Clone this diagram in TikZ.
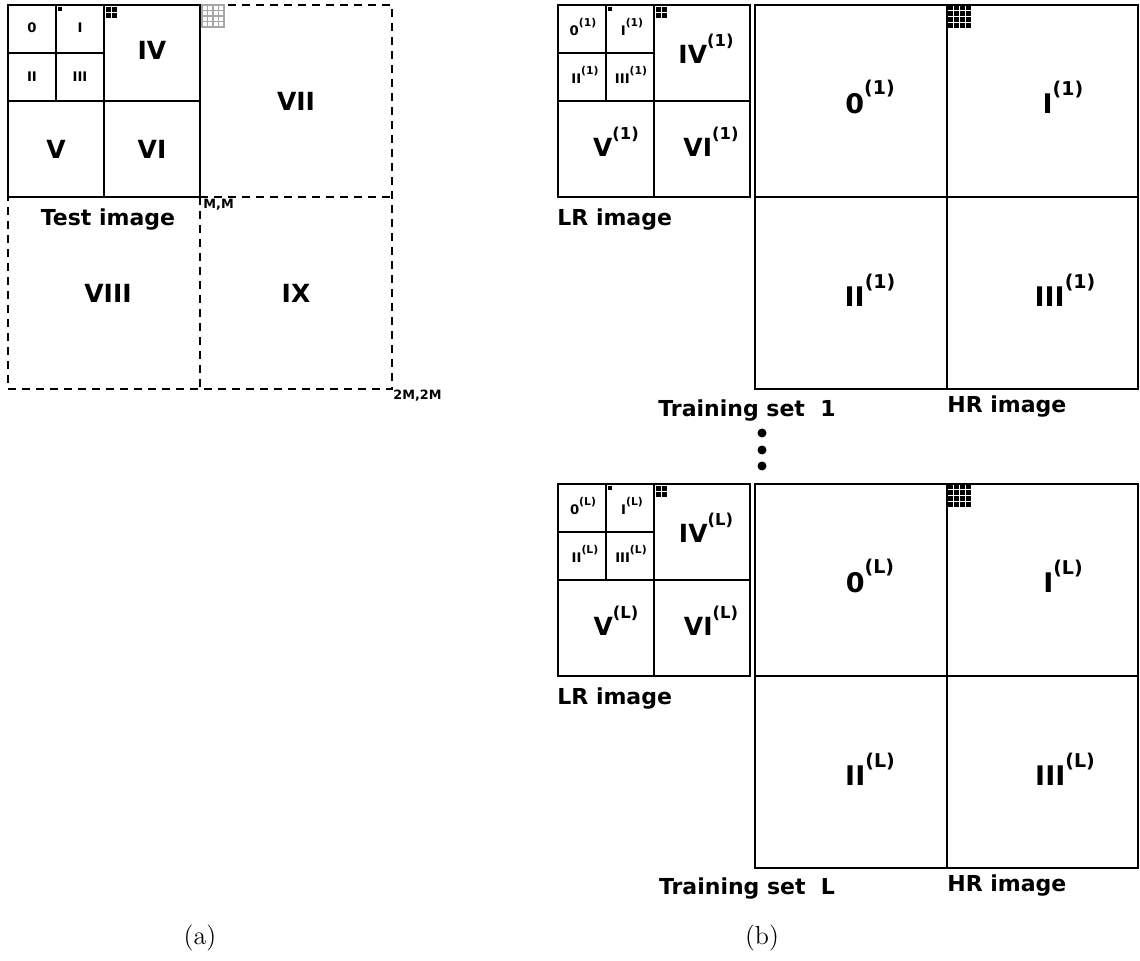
\documentclass[tikz,border=0pt]{standalone}
\usepackage{fontspec}
\newfontfamily\verd{DejaVu Sans}
\usetikzlibrary{positioning}

% superscripts for the quadrant labels
\newcommand\sps[1]{\raisebox{.72em}{\fontsize{5.4}{6}\selectfont(#1)}}
\newcommand\spb[1]{\raisebox{.68em}{\fontsize{8.2}{9}\selectfont(#1)}}
\newcommand\sph[1]{\raisebox{.68em}{\fontsize{9.5}{10}\selectfont(#1)}}

\begin{document}
\begin{tikzpicture}[
    x=0.5pt, y=-0.5pt,
    frame/.style={line width=1.1pt},
    dframe/.style={line width=1.1pt, dash pattern=on 4pt off 3pt},
    big/.style={font=\verd\bfseries\fontsize{12.5}{14}\selectfont, inner sep=0pt},
    small/.style={font=\verd\bfseries\fontsize{6.6}{8}\selectfont, inner sep=0pt},
    hrlbl/.style={font=\verd\bfseries\fontsize{13.5}{15}\selectfont, inner sep=0pt},
    caption/.style={font=\verd\bfseries\fontsize{11}{13}\selectfont, inner sep=0pt},
    corner/.style={font=\verd\bfseries\fontsize{6.4}{8}\selectfont, inner sep=0pt},
    subfig/.style={font=\fontsize{13}{15}\selectfont, inner sep=0pt}
]
\useasboundingbox (0,0) rectangle (1140,961);

% (a) test image
\draw[dframe] (200,5) -- (392,5) -- (392,389) -- (8,389) -- (8,197);
\draw[dframe] (200,197) -- (392,197) (200,197) -- (200,389);
\draw[frame] (8,5) rectangle (200,197);
\draw[frame] (104,5) -- (104,197) (8,101) -- (200,101)
    (56,5) -- (56,101) (8,53) -- (104,53);
\fill (58,7) rectangle (62,11);
\foreach \i in {0,1} \foreach \j in {0,1}
    \fill (106+\i*6,7+\j*6) rectangle ++(5,5);
\foreach \i in {0,...,3} \foreach \j in {0,...,3}
    \draw[gray!70, line width=0.6pt] (202+\i*5.5,5+\j*5.5) rectangle ++(5.5,5.5);

\node[small] (t0) at (32,28) {0};
\node[small] (t1) at (80,28) {I};
\node[small] (t2) at (32,77) {II};
\node[small] (t3) at (80,77) {III};
\node[big] (t4) at (152,50) {IV};
\node[big] (t5) at (56,149) {V};
\node[big] (t6) at (152,149) {VI};
\node[big] (t7) at (296,101) {VII};
\node[big] (t8) at (108,293) {VIII};
\node[big] (t9) at (296,293) {IX};
\node[caption] (test) at (108,220) {Test image};
\node[corner, anchor=west] (mm) at (203,205) {M,M};
\node[corner, anchor=west] (mm2) at (393,396) {2M,2M};
\node[subfig] (capa) at (200,938) {(a)};

% (b) training sets
\foreach \oy/\s in {0/1,479/L} {
  % LR image
  \draw[frame] (558,5+\oy) rectangle (750,197+\oy);
  \draw[frame] (654,5+\oy) -- (654,197+\oy) (558,101+\oy) -- (750,101+\oy)
      (606,5+\oy) -- (606,101+\oy) (558,53+\oy) -- (654,53+\oy);
  \fill (608,7+\oy) rectangle (612,11+\oy);
  \foreach \i in {0,1} \foreach \j in {0,1}
      \fill (656+\i*6,7+\j*6+\oy) rectangle ++(5,5);
  % HR image
  \draw[frame] (755,5+\oy) rectangle (1138,389+\oy);
  \draw[frame] (947,5+\oy) -- (947,389+\oy) (755,197+\oy) -- (1138,197+\oy);
  \foreach \i in {0,...,3} \foreach \j in {0,...,3}
      \fill (948+\i*6,5+\j*6+\oy) rectangle ++(5.2,5.2);

  \node[small] (lr0-\s) at (583,27+\oy) {0\sps{\s}};
  \node[small] (lr1-\s) at (632,27+\oy) {I\sps{\s}};
  \node[small] (lr2-\s) at (585,75+\oy) {II\sps{\s}};
  \node[small] (lr3-\s) at (631,75+\oy) {III\sps{\s}};
  \node[big] (lr4-\s) at (706,49+\oy) {IV\spb{\s}};
  \node[big] (lr5-\s) at (616,142+\oy) {V\spb{\s}};
  \node[big] (lr6-\s) at (711,142+\oy) {VI\spb{\s}};
  \node[hrlbl] (hr0-\s) at (870,97+\oy) {0\sph{\s}};
  \node[hrlbl] (hr1-\s) at (1063,97+\oy) {I\sph{\s}};
  \node[hrlbl] (hr2-\s) at (870,290+\oy) {II\sph{\s}};
  \node[hrlbl] (hr3-\s) at (1065,290+\oy) {III\sph{\s}};

  \node[caption, anchor=west] (lrlbl-\s) at (557,220+\oy) {LR image};
  \node[caption, anchor=west] (hrlbl-\s) at (947,407+\oy) {HR image};
}
\node[caption] (set1) at (747,411) {Training set~~1};
\node[caption] (setL) at (747,889) {Training set~~L};
\foreach \y in {433,450,466}
  \fill (762,\y) circle (4.5);
\node[subfig] (capb) at (762,938) {(b)};
\end{tikzpicture}
\end{document}
